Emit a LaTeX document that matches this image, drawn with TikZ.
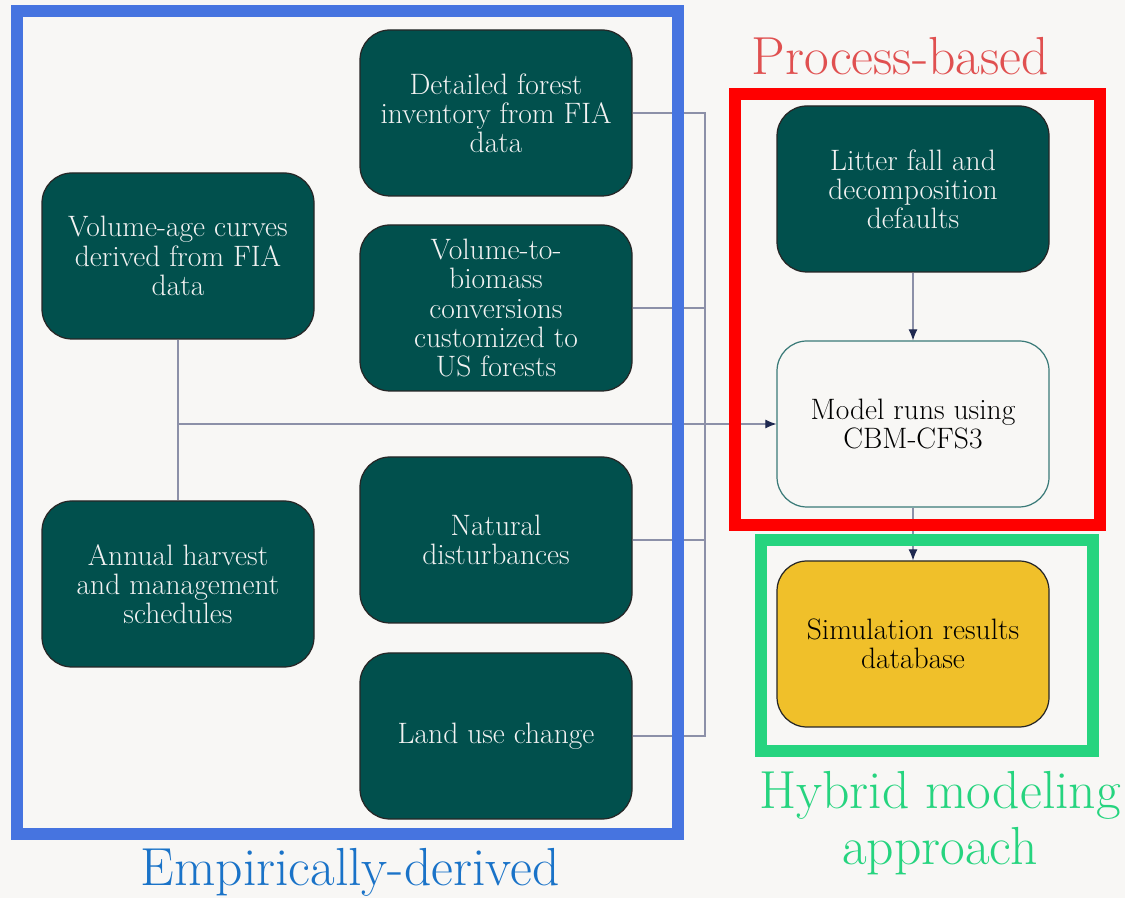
\documentclass[tikz,border=0pt]{standalone}
\usetikzlibrary{arrows.meta}
\definecolor{bgpaper}{HTML}{F8F7F5}
\definecolor{boxteal}{HTML}{01504D}
\definecolor{edgeteal}{HTML}{3A7A78}
\definecolor{resultyellow}{HTML}{F0C02A}
\definecolor{wiregray}{HTML}{8C90A8}
\definecolor{tipnavy}{HTML}{1E2850}
\definecolor{empblue}{HTML}{4674E0}
\definecolor{emptext}{HTML}{1A73C8}
\definecolor{procred}{HTML}{FF0000}
\definecolor{proctext}{HTML}{E05050}
\definecolor{hybgreen}{HTML}{26D47F}
\tikzset{
  stepbox/.style = {rectangle, rounded corners=0.6cm, draw=black!85, line width=0.7pt,
    minimum width=5.44cm, minimum height=3.32cm, align=center,
    font=\fontsize{16.8}{16.6}\selectfont},
  darkbox/.style = {stepbox, fill=boxteal, text=white!95!black},
  elbow/.style = {to path={-| (\tikztotarget)}},
  feed/.style = {-{Latex[length=2.2mm,width=1.8mm,color=tipnavy]}},
  grouplabel/.style = {font=\fontsize{30.5}{32}\selectfont, align=center}
}
\begin{document}
\begin{tikzpicture}
\useasboundingbox (0,0) rectangle (22.5,17.96);
\fill[bgpaper] (0,0) rectangle (22.5,17.96);
\begin{scope}[every node/.style = {darkbox}]
\node (curves) at (3.56, 12.84) {Volume-age curves\\derived from FIA\\data};
\node (harvest) at (3.56, 6.28) {Annual harvest\\and management\\schedules};
\node (detail) at (9.92, 15.7) {Detailed forest\\inventory from FIA\\data};
\node (biomass) at (9.92, 11.8) {Volume-to-\\biomass\\conversions\\customized to\\US forests};
\node (natural) at (9.92, 7.16) {Natural\\disturbances};
\node (landuse) at (9.92, 3.24) {Land use change};
\node (litter) at (18.26, 14.18) {Litter fall and\\decomposition\\defaults};
\end{scope}
\node[stepbox, draw=edgeteal, fill=bgpaper, text=black] (model) at (18.26, 9.48) {Model runs using\\CBM-CFS3};
\node[stepbox, fill=resultyellow, text=black] (results) at (18.26, 5.08) {Simulation results\\database};
\coordinate (bus) at (14.1, 9.48);
\begin{scope}[every edge/.style = {draw, wiregray, line width=0.6pt}]
\path (detail.east) edge[elbow] (bus);
\path (biomass.east) edge[elbow] (bus);
\path (natural.east) edge[elbow] (bus);
\path (landuse.east) edge[elbow] (bus);
\path (curves.south) edge (harvest.north);
\path (curves.south |- bus) edge (bus);
\path (bus) edge[feed] (model.west);
\path (litter.south) edge[feed] (model.north);
\path (model.south) edge[feed] (results.north);
\end{scope}
% group frames
\begin{scope}[line width=0.24cm]
\draw[empblue] (0.34, 17.74) rectangle (13.56, 1.28);
\draw[procred] (14.7, 16.08) rectangle (22.0, 7.45);
\draw[hybgreen] (15.21, 7.16) rectangle (21.85, 2.95);
\end{scope}
\node[grouplabel, text=proctext, anchor=base] (proclabel) at (18.0, 16.46) {Process-based};
\node[grouplabel, text=emptext, anchor=base] (emplabel) at (7.0, 0.26) {Empirically-derived};
\node[grouplabel, text=hybgreen] (hyblabel) at (18.8, 1.5) {Hybrid modeling\\approach};
\end{tikzpicture}
\end{document}
